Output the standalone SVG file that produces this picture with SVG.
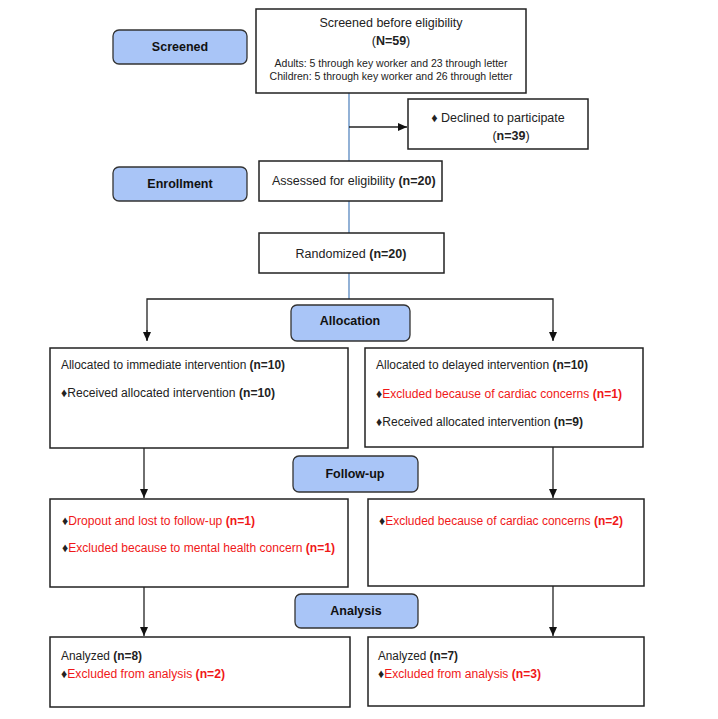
<svg xmlns="http://www.w3.org/2000/svg" width="718" height="719" viewBox="0 0 718 719">
<style>
.box{fill:#fff;stroke:#222;stroke-width:1.5}
.stage{fill:#a9c5f7;stroke:#333;stroke-width:1.3}
.st{font-family:"Liberation Sans",Arial,sans-serif;font-size:12.5px;font-weight:bold;fill:#111;text-anchor:middle}
.t{font-family:"Liberation Sans",Arial,sans-serif;font-size:12.5px;fill:#222}
.s{font-family:"Liberation Sans",Arial,sans-serif;font-size:10.5px;fill:#222;text-anchor:middle}
.r{fill:#f01818}
.b{font-weight:bold}
.ln{fill:none;stroke:#222;stroke-width:1.3}
.bl{fill:none;stroke:#4a7ebb;stroke-width:1.2}
</style>
<defs>
<marker id="ar" viewBox="0 0 9 8" refX="9" refY="4" markerWidth="9" markerHeight="8" markerUnits="userSpaceOnUse" orient="auto">
<path d="M0,0 L9,4 L0,8 Z" fill="#111"/>
</marker>
</defs>

<g id="connectors">
<line class="bl" x1="349" y1="93" x2="349" y2="161"/>
<line class="bl" x1="349" y1="201" x2="349" y2="233"/>
<line class="bl" x1="349" y1="273" x2="349" y2="299"/>
<line class="ln" x1="349" y1="127" x2="407" y2="127" marker-end="url(#ar)"/>
<polyline class="ln" points="147,340 147,299 553,299 553,340"/>
<line class="ln" x1="147" y1="330" x2="147" y2="341" marker-end="url(#ar)"/>
<line class="ln" x1="553" y1="330" x2="553" y2="341" marker-end="url(#ar)"/>
<line class="ln" x1="144" y1="448" x2="144" y2="498" marker-end="url(#ar)"/>
<line class="ln" x1="553" y1="447" x2="553" y2="498" marker-end="url(#ar)"/>
<line class="ln" x1="144" y1="587" x2="144" y2="636" marker-end="url(#ar)"/>
<line class="ln" x1="553" y1="586" x2="553" y2="636" marker-end="url(#ar)"/>
</g>

<g id="stage-screened">
<rect class="stage" x="113" y="30" width="134" height="34" rx="6"/>
<text class="st" x="180" y="51">Screened</text>
</g>
<g id="stage-enrollment">
<rect class="stage" x="113" y="167" width="134" height="34" rx="6"/>
<text class="st" x="180" y="188">Enrollment</text>
</g>
<g id="stage-allocation">
<rect class="stage" x="291" y="305" width="119" height="36" rx="6"/>
<text class="st" x="350" y="325">Allocation</text>
</g>
<g id="stage-followup">
<rect class="stage" x="293" y="456" width="125" height="36" rx="6"/>
<text class="st" x="355" y="478">Follow-up</text>
</g>
<g id="stage-analysis">
<rect class="stage" x="295" y="594" width="123" height="34" rx="6"/>
<text class="st" x="356" y="615">Analysis</text>
</g>

<g id="screened-box">
<rect class="box" x="256" y="9" width="270" height="84"/>
<text class="t" x="391" y="27" text-anchor="middle" font-size="13">Screened before eligibility</text>
<text class="t" x="391" y="45" text-anchor="middle" font-size="13">(<tspan class="b">N=59</tspan>)</text>
<text class="s" x="391" y="67">Adults: 5 through key worker and 23 through letter</text>
<text class="s" x="391" y="80">Children: 5 through key worker and 26 through letter</text>
</g>

<g id="declined-box">
<rect class="box" x="408" y="99" width="180" height="50"/>
<text class="t" x="498" y="122" text-anchor="middle">♦ Declined to participate</text>
<text class="t" x="511" y="140" text-anchor="middle">(<tspan class="b">n=39</tspan>)</text>
</g>

<g id="assessed-box">
<rect class="box" x="259" y="161" width="183" height="40"/>
<text class="t" x="272" y="185">Assessed for eligibility <tspan class="b">(n=20)</tspan></text>
</g>

<g id="randomized-box">
<rect class="box" x="259" y="233" width="185" height="40"/>
<text class="t" x="351" y="258" text-anchor="middle">Randomized <tspan class="b">(n=20)</tspan></text>
</g>

<g id="alloc-left">
<rect class="box" x="50" y="348" width="298" height="100"/>
<text class="t" x="61" y="369" textLength="224" lengthAdjust="spacingAndGlyphs">Allocated to immediate intervention <tspan class="b">(n=10)</tspan></text>
<text class="t" x="61" y="397" textLength="214" lengthAdjust="spacingAndGlyphs">♦Received allocated intervention <tspan class="b">(n=10)</tspan></text>
</g>

<g id="alloc-right">
<rect class="box" x="365" y="348" width="278" height="99"/>
<text class="t" x="376" y="369" textLength="212" lengthAdjust="spacingAndGlyphs">Allocated to delayed intervention <tspan class="b">(n=10)</tspan></text>
<text class="t" x="376" y="398" textLength="246" lengthAdjust="spacingAndGlyphs">♦<tspan class="r">Excluded because of cardiac concerns </tspan><tspan class="r b">(n=1)</tspan></text>
<text class="t" x="376" y="426" textLength="207" lengthAdjust="spacingAndGlyphs">♦Received allocated intervention <tspan class="b">(n=9)</tspan></text>
</g>

<g id="followup-left">
<rect class="box" x="50" y="499" width="298" height="88"/>
<text class="t" x="62" y="525" textLength="193" lengthAdjust="spacingAndGlyphs">♦<tspan class="r">Dropout and lost to follow-up </tspan><tspan class="r b">(n=1)</tspan></text>
<text class="t" x="62" y="552" textLength="273" lengthAdjust="spacingAndGlyphs">♦<tspan class="r">Excluded because to mental health concern </tspan><tspan class="r b">(n=1)</tspan></text>
</g>

<g id="followup-right">
<rect class="box" x="368" y="499" width="276" height="87"/>
<text class="t" x="379" y="525" textLength="244" lengthAdjust="spacingAndGlyphs">♦<tspan class="r">Excluded because of cardiac concerns </tspan><tspan class="r b">(n=2)</tspan></text>
</g>

<g id="analysis-left">
<rect class="box" x="50" y="637" width="300" height="70"/>
<text class="t" x="61" y="660" textLength="81" lengthAdjust="spacingAndGlyphs">Analyzed <tspan class="b">(n=8)</tspan></text>
<text class="t" x="61" y="678" textLength="164" lengthAdjust="spacingAndGlyphs">♦<tspan class="r">Excluded from analysis </tspan><tspan class="r b">(n=2)</tspan></text>
</g>

<g id="analysis-right">
<rect class="box" x="368" y="637" width="276" height="69"/>
<text class="t" x="378" y="660" textLength="80" lengthAdjust="spacingAndGlyphs">Analyzed <tspan class="b">(n=7)</tspan></text>
<text class="t" x="378" y="678" textLength="163" lengthAdjust="spacingAndGlyphs">♦<tspan class="r">Excluded from analysis </tspan><tspan class="r b">(n=3)</tspan></text>
</g>
</svg>
